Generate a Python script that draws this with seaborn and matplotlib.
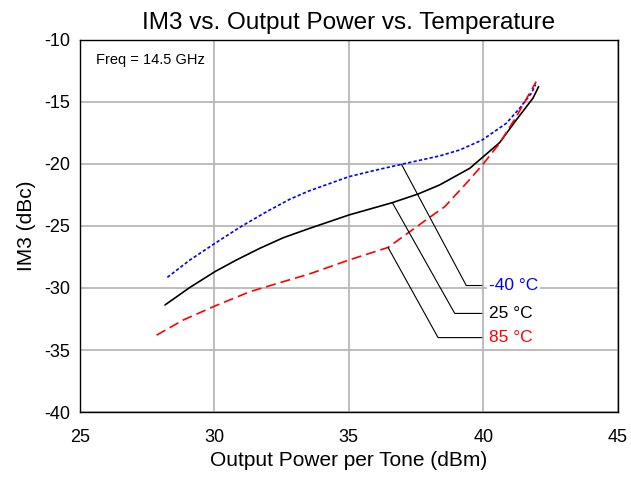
import matplotlib
matplotlib.use("Agg")
import matplotlib.pyplot as plt
import seaborn as sns
import pandas as pd

# ---- data ----
x_m40 = [28.25, 29.09, 30.02, 30.95, 31.94, 32.8, 33.49, 35.01, 36.0, 36.96, 38.38, 39.13, 39.97, 40.86, 41.36, 41.79, 41.95]
y_m40 = [-29.14, -27.74, -26.4, -25.1, -23.85, -22.85, -22.2, -21.02, -20.5, -20.03, -19.35, -18.87, -18.06, -16.72, -15.5, -14.3, -13.6]

x_25 = [28.16, 29.09, 30.02, 30.82, 31.69, 32.56, 33.53, 35.01, 36.62, 37.58, 38.38, 39.5, 40.61, 41.23, 41.85, 42.06]
y_25 = [-31.37, -29.95, -28.68, -27.74, -26.8, -25.95, -25.2, -24.11, -23.12, -22.42, -21.69, -20.35, -18.28, -16.45, -14.7, -13.77]

x_85 = [27.85, 28.84, 30.02, 31.32, 32.56, 33.53, 35.01, 36.46, 37.27, 38.01, 38.57, 39.37, 39.97, 40.61, 41.23, 41.97]
y_85 = [-33.8, -32.58, -31.45, -30.3, -29.49, -28.87, -27.74, -26.73, -25.46, -24.3, -23.44, -21.56, -20.08, -18.33, -16.19, -13.36]

series_names = ["-40 °C", "25 °C", "85 °C"]
series_colors = ["#0000FF", "#000000", "#FF0000"]

x_ticks = [25, 30, 35, 40, 45]
y_ticks = [-40, -35, -30, -25, -20, -15, -10]

# annotation anchors (point on curve, elbow, label position)
ann_point_x = [36.96, 36.62, 36.46]
ann_point_y = [-20.03, -23.12, -26.73]
ann_elbow_x = [39.37, 38.94, 38.32]
ann_elbow_y = [-29.8, -32.05, -34.0]
ann_end_x = 39.95
ann_text_x = 40.2

df = pd.concat([
    pd.DataFrame({"x": x_m40, "y": y_m40, "T": series_names[0]}),
    pd.DataFrame({"x": x_25, "y": y_25, "T": series_names[1]}),
    pd.DataFrame({"x": x_85, "y": y_85, "T": series_names[2]}),
])

sns.set_theme(style="white")
plt.rcParams["font.family"] = ["Liberation Sans", "DejaVu Sans"]
plt.rcParams["axes.unicode_minus"] = False
plt.rcParams["text.color"] = "black"
plt.rcParams["axes.labelcolor"] = "black"
plt.rcParams["xtick.color"] = "black"
plt.rcParams["ytick.color"] = "black"

fig = plt.figure(figsize=(6.31, 4.78), dpi=100)
ax = fig.add_axes([0.1268, 0.138, 0.852, 0.7785])

dashes = {series_names[0]: (2, 1.3), series_names[1]: "", series_names[2]: (6, 3)}
palette = dict(zip(series_names, series_colors))
sns.lineplot(data=df, x="x", y="y", hue="T", style="T", dashes=dashes,
             palette=palette, sort=False, estimator=None, linewidth=1.2,
             legend=False, ax=ax, zorder=3)

ax.set_xlim(25, 45)
ax.set_ylim(-40, -10)
ax.set_xticks(x_ticks)
ax.set_yticks(y_ticks)
ax.grid(True, color="#b8b8b8", linewidth=1.3, zorder=0)
ax.set_axisbelow(True)
for s in ax.spines.values():
    s.set_color("black")
    s.set_linewidth(1.0)
ax.tick_params(axis="both", labelsize=13, length=0, colors="black")
ax.tick_params(axis="x", pad=12)
ax.tick_params(axis="y", pad=7)

ax.set_xlabel("Output Power per Tone (dBm)", fontsize=15, labelpad=4, color="black")
ax.set_ylabel("IM3 (dBc)", fontsize=15, labelpad=6, color="black")
ax.set_title("IM3 vs. Output Power vs. Temperature", fontsize=17.5, pad=8, color="black")

ax.text(25.6, -11.6, "Freq = 14.5 GHz", fontsize=10.5, ha="left", va="center", color="black")

for i in range(3):
    ax.plot([ann_point_x[i], ann_elbow_x[i], ann_end_x],
            [ann_point_y[i], ann_elbow_y[i], ann_elbow_y[i]],
            color="black", linewidth=0.8, zorder=4)
    ax.text(ann_text_x, ann_elbow_y[i], series_names[i], color=series_colors[i],
            fontsize=12.5, ha="left", va="center", zorder=5,
            bbox=dict(facecolor="white", edgecolor="none", pad=1.5))

fig.savefig("out.png", dpi=100)
